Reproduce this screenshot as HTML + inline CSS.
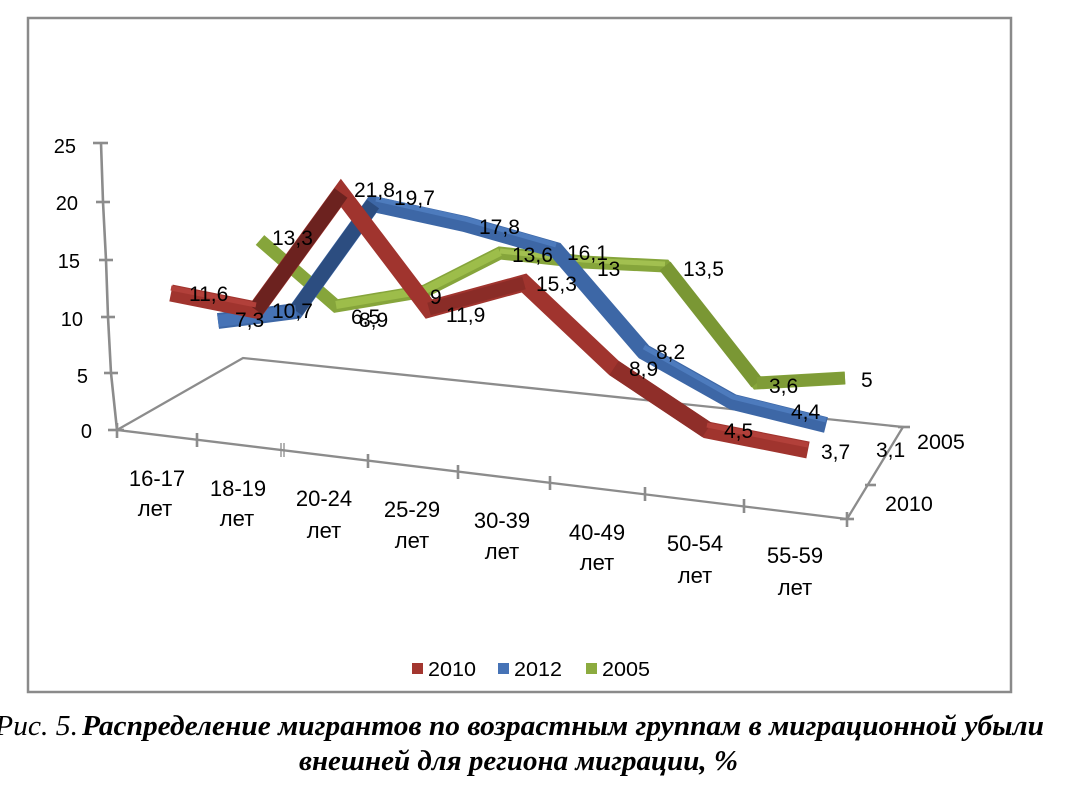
<!DOCTYPE html>
<html><head><meta charset="utf-8">
<style>
html,body{margin:0;padding:0;background:#fff;}
svg{display:block;}
text{font-family:"Liberation Sans","DejaVu Sans",sans-serif;fill:#000;}
.cap{font-family:"Liberation Serif","DejaVu Serif",serif;font-style:italic;}
</style></head><body>
<svg width="1070" height="798" viewBox="0 0 1070 798" xmlns="http://www.w3.org/2000/svg">
<rect x="0" y="0" width="1070" height="798" fill="#fff"/>
<rect x="28" y="18" width="983" height="674" fill="#fff" stroke="#8a8a8a" stroke-width="2.5"/>

<!-- Y axis -->
<g stroke="#8c8c8c" stroke-width="2.6" fill="none">
<polyline points="101,143 103,202 106,260 108,317 111,373 117,430"/>
<line x1="93" y1="143" x2="108" y2="143"/>
<line x1="96" y1="202" x2="110" y2="202"/>
<line x1="99" y1="260" x2="113" y2="260"/>
<line x1="101" y1="317" x2="115" y2="317"/>
<line x1="104" y1="373" x2="118" y2="373"/>
<line x1="108" y1="430" x2="124" y2="430"/>
<!-- floor -->
<polyline points="117,430 243,358 903,427 847,519 117,430" stroke-width="2.3"/>
<!-- front ticks -->
<line x1="117" y1="423" x2="117" y2="438"/>
<line x1="197" y1="433" x2="197" y2="447"/>
<line x1="281" y1="443" x2="281" y2="457" stroke-width="1.3"/>
<line x1="284" y1="443" x2="284" y2="457" stroke-width="1.3"/>
<line x1="368" y1="454" x2="368" y2="468"/>
<line x1="458" y1="465" x2="458" y2="479"/>
<line x1="550" y1="476" x2="550" y2="490"/>
<line x1="645" y1="487" x2="645" y2="501"/>
<line x1="744" y1="499" x2="744" y2="513"/>
<line x1="847" y1="512" x2="847" y2="527"/>
<line x1="840" y1="519" x2="854" y2="519"/>
<line x1="865" y1="485" x2="876" y2="485"/>
<line x1="898" y1="427" x2="910" y2="427"/>
</g>

<!-- Y labels -->
<g font-size="20" text-anchor="end">
<text x="76" y="153">25</text>
<text x="78" y="210">20</text>
<text x="80" y="268">15</text>
<text x="83" y="326">10</text>
<text x="88" y="383">5</text>
<text x="92" y="438">0</text>
</g>

<!-- Green 2005 (back) -->
<g fill="none" stroke-linejoin="miter" stroke-miterlimit="2">
<polyline points="260,240 336,306 425,291 500,253 583,262 665,266 757,383 845,378" stroke="#86a53b" stroke-width="13"/>
<polyline points="336,305 425,290 500,252" stroke="#9dbd4a" stroke-width="8"/>
<polyline points="500,251 583,260 665,264" stroke="#a2c050" stroke-width="5"/>
<line x1="665" y1="266" x2="757" y2="383" stroke="#7a9734" stroke-width="14"/>
<line x1="757" y1="383" x2="845" y2="378" stroke="#7f9c37" stroke-width="12"/>
</g>

<!-- Blue 2012 (middle) -->
<g fill="none" stroke-linejoin="miter" stroke-miterlimit="2">
<polyline points="218,321 296,311 373,204 465,224 556,250 644,352 733,402 826,425" stroke="#3d67a6" stroke-width="16"/>
<line x1="296" y1="311" x2="373" y2="204" stroke="#2c4d80" stroke-width="15"/>
<line x1="218" y1="321" x2="296" y2="311" stroke="#4673b6" stroke-width="12"/>
<polyline points="376,199 465,219 556,245" stroke="#4d7bbd" stroke-width="5"/>
<polyline points="644,347 733,397 826,420" stroke="#4d7bbd" stroke-width="5"/>
</g>

<!-- Red 2010 (front) -->
<g fill="none" stroke-linejoin="miter" stroke-miterlimit="2">
<polyline points="171,293 256,310 341,193 429,309 524,283 614,368 707,430 808,450" stroke="#a0342e" stroke-width="17"/>
<line x1="256" y1="310" x2="341" y2="193" stroke="#6c221f" stroke-width="16"/>
<line x1="429" y1="309" x2="524" y2="283" stroke="#8a2c27" stroke-width="13"/>
<line x1="614" y1="368" x2="707" y2="430" stroke="#8f2e29" stroke-width="17"/>
<polyline points="707,425 808,445" stroke="#b2403a" stroke-width="5"/>
<polyline points="171,288 256,305" stroke="#b2403a" stroke-width="5"/>
</g>

<!-- Data labels -->
<g font-size="21">
<text x="189" y="301">11,6</text>
<text x="235" y="327">7,3</text>
<text x="272" y="318">10,7</text>
<text x="272" y="245">13,3</text>
<text x="354" y="197">21,8</text>
<text x="394" y="205">19,7</text>
<text x="430" y="304">9</text>
<text x="351" y="324">6,5</text>
<text x="359" y="327">8,9</text>
<text x="479" y="234">17,8</text>
<text x="446" y="322">11,9</text>
<text x="512" y="262">13,6</text>
<text x="567" y="260">16,1</text>
<text x="597" y="276">13</text>
<text x="536" y="291">15,3</text>
<text x="683" y="276">13,5</text>
<text x="656" y="359">8,2</text>
<text x="629" y="376">8,9</text>
<text x="769" y="393">3,6</text>
<text x="861" y="387">5</text>
<text x="791" y="419">4,4</text>
<text x="724" y="438">4,5</text>
<text x="821" y="459">3,7</text>
<text x="876" y="457">3,1</text>
</g>
<g font-size="21.5">
<text x="917" y="449">2005</text>
<text x="885" y="511">2010</text>
</g>

<!-- Category labels -->
<g font-size="22" text-anchor="middle">
<text x="157" y="486">16-17</text><text x="155" y="516">лет</text>
<text x="238" y="496">18-19</text><text x="237" y="526">лет</text>
<text x="324" y="506">20-24</text><text x="324" y="538">лет</text>
<text x="412" y="517">25-29</text><text x="412" y="548">лет</text>
<text x="502" y="528">30-39</text><text x="502" y="559">лет</text>
<text x="597" y="540">40-49</text><text x="597" y="570">лет</text>
<text x="695" y="551">50-54</text><text x="695" y="583">лет</text>
<text x="795" y="563">55-59</text><text x="795" y="595">лет</text>
</g>

<!-- Legend -->
<rect x="412" y="663" width="11" height="11" fill="#a3362f"/>
<text x="428" y="676" font-size="20" textLength="48" lengthAdjust="spacingAndGlyphs">2010</text>
<rect x="498" y="663" width="11" height="11" fill="#4673b6"/>
<text x="514" y="676" font-size="20" textLength="48" lengthAdjust="spacingAndGlyphs">2012</text>
<rect x="586" y="663" width="11" height="11" fill="#8cab3f"/>
<text x="602" y="676" font-size="20" textLength="48" lengthAdjust="spacingAndGlyphs">2005</text>

<!-- Caption -->
<text class="cap" x="-5" y="735" font-size="28" textLength="83" lengthAdjust="spacingAndGlyphs">Рис. 5.</text>
<text class="cap" x="82" y="735" font-size="28" font-weight="bold" textLength="962" lengthAdjust="spacingAndGlyphs">Распределение мигрантов по возрастным группам в миграционной убыли</text>
<text class="cap" x="299" y="770" font-size="28" font-weight="bold" textLength="439" lengthAdjust="spacingAndGlyphs">внешней для региона миграции, %</text>
</svg>
</body></html>
